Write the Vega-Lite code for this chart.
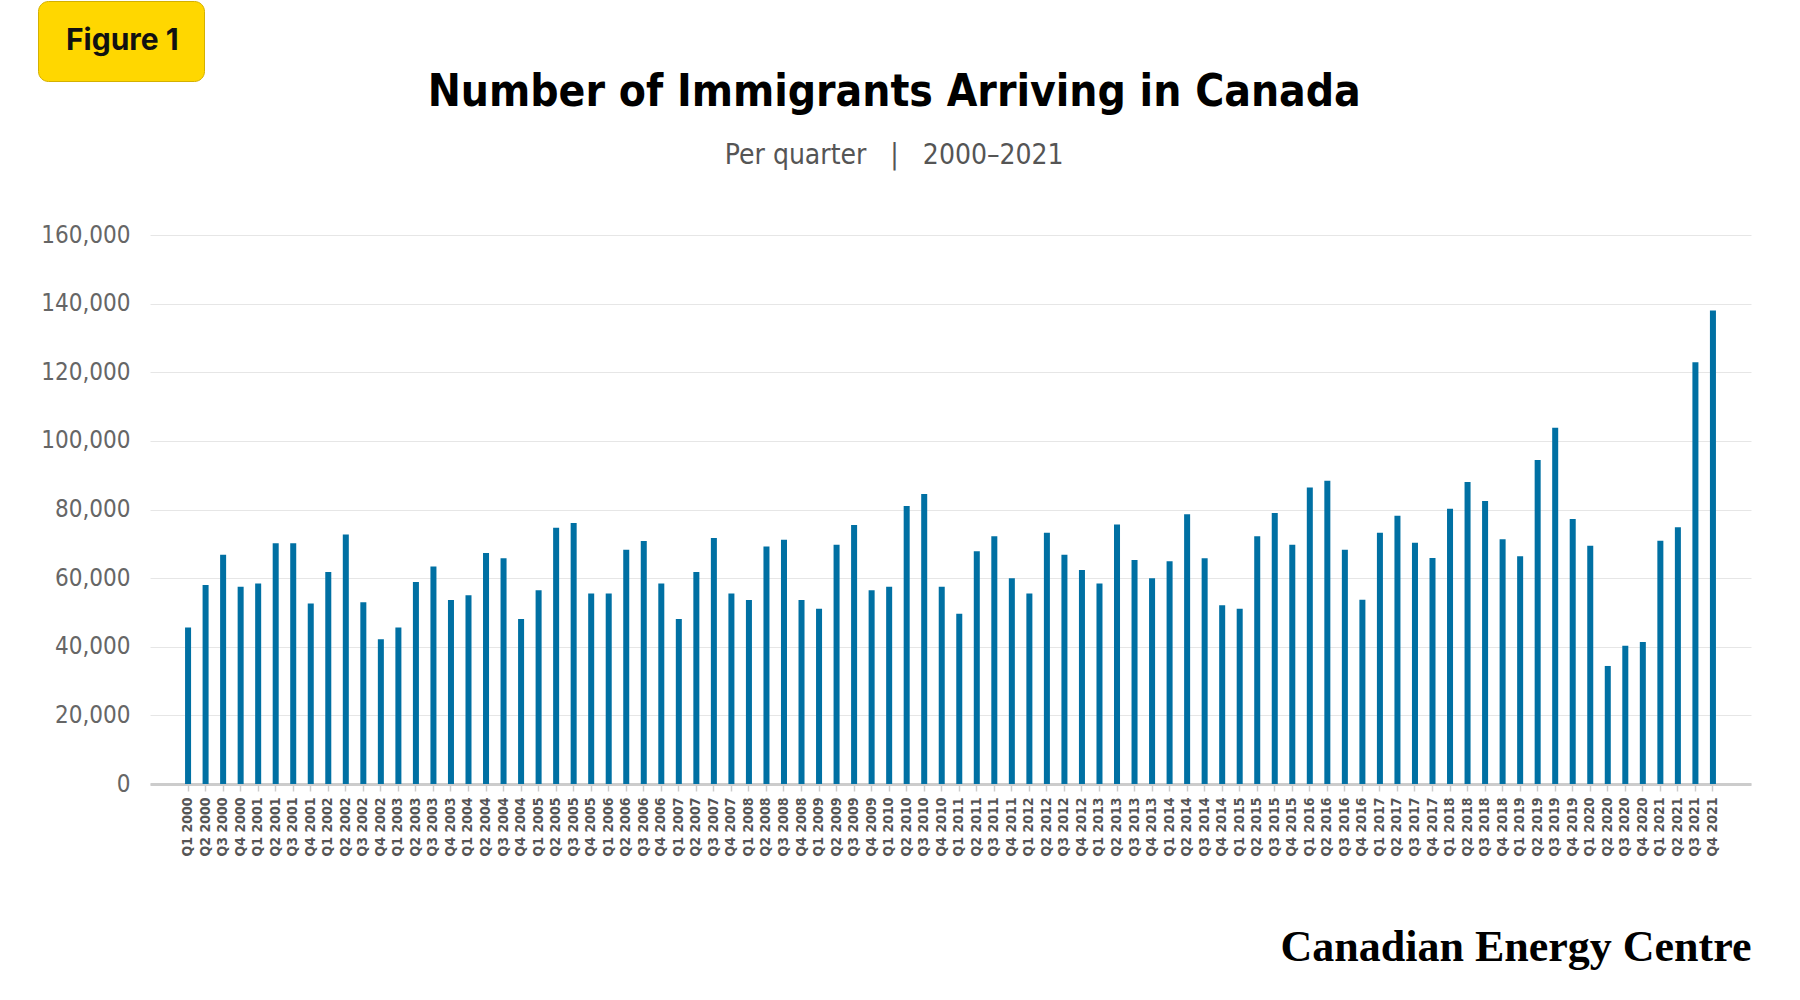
{
  "$schema": "https://vega.github.io/schema/vega-lite/v6.json",
  "description": "Number of immigrants arriving in Canada per quarter, 2000-2021.",
  "background": "white",
  "padding": {"left": 37, "top": 0, "right": 50, "bottom": 10},
  "width": 1601,
  "height": 549,
  "title": {
    "text": "Number of Immigrants Arriving in Canada",
    "subtitle": "Per quarter\u00a0\u00a0\u00a0|\u00a0\u00a0\u00a02000–2021",
    "anchor": "middle",
    "frame": "bounds",
    "font": "DejaVu Sans Condensed",
    "fontWeight": "bold",
    "fontSize": 44,
    "color": "#000000",
    "subtitleFont": "DejaVu Sans Condensed",
    "subtitleFontSize": 28,
    "subtitleColor": "#555555",
    "subtitlePadding": 27,
    "offset": -169
  },
  "data": {
    "values": [
      {"quarter": "Q1 2000", "immigrants": 45600},
      {"quarter": "Q2 2000", "immigrants": 58000},
      {"quarter": "Q3 2000", "immigrants": 66800},
      {"quarter": "Q4 2000", "immigrants": 57500},
      {"quarter": "Q1 2001", "immigrants": 58400},
      {"quarter": "Q2 2001", "immigrants": 70200},
      {"quarter": "Q3 2001", "immigrants": 70200},
      {"quarter": "Q4 2001", "immigrants": 52600},
      {"quarter": "Q1 2002", "immigrants": 61800},
      {"quarter": "Q2 2002", "immigrants": 72700},
      {"quarter": "Q3 2002", "immigrants": 53000},
      {"quarter": "Q4 2002", "immigrants": 42200},
      {"quarter": "Q1 2003", "immigrants": 45600},
      {"quarter": "Q2 2003", "immigrants": 58900},
      {"quarter": "Q3 2003", "immigrants": 63400},
      {"quarter": "Q4 2003", "immigrants": 53600},
      {"quarter": "Q1 2004", "immigrants": 55000},
      {"quarter": "Q2 2004", "immigrants": 67300},
      {"quarter": "Q3 2004", "immigrants": 65800},
      {"quarter": "Q4 2004", "immigrants": 48100},
      {"quarter": "Q1 2005", "immigrants": 56500},
      {"quarter": "Q2 2005", "immigrants": 74700},
      {"quarter": "Q3 2005", "immigrants": 76100},
      {"quarter": "Q4 2005", "immigrants": 55500},
      {"quarter": "Q1 2006", "immigrants": 55500},
      {"quarter": "Q2 2006", "immigrants": 68300},
      {"quarter": "Q3 2006", "immigrants": 70800},
      {"quarter": "Q4 2006", "immigrants": 58400},
      {"quarter": "Q1 2007", "immigrants": 48100},
      {"quarter": "Q2 2007", "immigrants": 61800},
      {"quarter": "Q3 2007", "immigrants": 71700},
      {"quarter": "Q4 2007", "immigrants": 55500},
      {"quarter": "Q1 2008", "immigrants": 53600},
      {"quarter": "Q2 2008", "immigrants": 69200},
      {"quarter": "Q3 2008", "immigrants": 71200},
      {"quarter": "Q4 2008", "immigrants": 53600},
      {"quarter": "Q1 2009", "immigrants": 51100},
      {"quarter": "Q2 2009", "immigrants": 69700},
      {"quarter": "Q3 2009", "immigrants": 75500},
      {"quarter": "Q4 2009", "immigrants": 56500},
      {"quarter": "Q1 2010", "immigrants": 57500},
      {"quarter": "Q2 2010", "immigrants": 81000},
      {"quarter": "Q3 2010", "immigrants": 84500},
      {"quarter": "Q4 2010", "immigrants": 57500},
      {"quarter": "Q1 2011", "immigrants": 49600},
      {"quarter": "Q2 2011", "immigrants": 67800},
      {"quarter": "Q3 2011", "immigrants": 72200},
      {"quarter": "Q4 2011", "immigrants": 60000},
      {"quarter": "Q1 2012", "immigrants": 55500},
      {"quarter": "Q2 2012", "immigrants": 73200},
      {"quarter": "Q3 2012", "immigrants": 66800},
      {"quarter": "Q4 2012", "immigrants": 62400},
      {"quarter": "Q1 2013", "immigrants": 58400},
      {"quarter": "Q2 2013", "immigrants": 75600},
      {"quarter": "Q3 2013", "immigrants": 65300},
      {"quarter": "Q4 2013", "immigrants": 60000},
      {"quarter": "Q1 2014", "immigrants": 64900},
      {"quarter": "Q2 2014", "immigrants": 78600},
      {"quarter": "Q3 2014", "immigrants": 65800},
      {"quarter": "Q4 2014", "immigrants": 52100},
      {"quarter": "Q1 2015", "immigrants": 51100},
      {"quarter": "Q2 2015", "immigrants": 72200},
      {"quarter": "Q3 2015", "immigrants": 79000},
      {"quarter": "Q4 2015", "immigrants": 69700},
      {"quarter": "Q1 2016", "immigrants": 86400},
      {"quarter": "Q2 2016", "immigrants": 88400},
      {"quarter": "Q3 2016", "immigrants": 68300},
      {"quarter": "Q4 2016", "immigrants": 53700},
      {"quarter": "Q1 2017", "immigrants": 73200},
      {"quarter": "Q2 2017", "immigrants": 78200},
      {"quarter": "Q3 2017", "immigrants": 70300},
      {"quarter": "Q4 2017", "immigrants": 65900},
      {"quarter": "Q1 2018", "immigrants": 80200},
      {"quarter": "Q2 2018", "immigrants": 88000},
      {"quarter": "Q3 2018", "immigrants": 82500},
      {"quarter": "Q4 2018", "immigrants": 71300},
      {"quarter": "Q1 2019", "immigrants": 66400},
      {"quarter": "Q2 2019", "immigrants": 94400},
      {"quarter": "Q3 2019", "immigrants": 103800},
      {"quarter": "Q4 2019", "immigrants": 77200},
      {"quarter": "Q1 2020", "immigrants": 69400},
      {"quarter": "Q2 2020", "immigrants": 34400},
      {"quarter": "Q3 2020", "immigrants": 40300},
      {"quarter": "Q4 2020", "immigrants": 41400},
      {"quarter": "Q1 2021", "immigrants": 70900},
      {"quarter": "Q2 2021", "immigrants": 74800},
      {"quarter": "Q3 2021", "immigrants": 122900},
      {"quarter": "Q4 2021", "immigrants": 138000}
    ]
  },
  "mark": {"type": "bar"},
  "encoding": {
    "x": {
      "field": "quarter",
      "type": "ordinal",
      "sort": null,
      "scale": {
        "paddingInner": 0.657,
        "paddingOuter": 1,
        "domain": [
          "pad-left",
          "Q1 2000", "Q2 2000", "Q3 2000", "Q4 2000",
          "Q1 2001", "Q2 2001", "Q3 2001", "Q4 2001",
          "Q1 2002", "Q2 2002", "Q3 2002", "Q4 2002",
          "Q1 2003", "Q2 2003", "Q3 2003", "Q4 2003",
          "Q1 2004", "Q2 2004", "Q3 2004", "Q4 2004",
          "Q1 2005", "Q2 2005", "Q3 2005", "Q4 2005",
          "Q1 2006", "Q2 2006", "Q3 2006", "Q4 2006",
          "Q1 2007", "Q2 2007", "Q3 2007", "Q4 2007",
          "Q1 2008", "Q2 2008", "Q3 2008", "Q4 2008",
          "Q1 2009", "Q2 2009", "Q3 2009", "Q4 2009",
          "Q1 2010", "Q2 2010", "Q3 2010", "Q4 2010",
          "Q1 2011", "Q2 2011", "Q3 2011", "Q4 2011",
          "Q1 2012", "Q2 2012", "Q3 2012", "Q4 2012",
          "Q1 2013", "Q2 2013", "Q3 2013", "Q4 2013",
          "Q1 2014", "Q2 2014", "Q3 2014", "Q4 2014",
          "Q1 2015", "Q2 2015", "Q3 2015", "Q4 2015",
          "Q1 2016", "Q2 2016", "Q3 2016", "Q4 2016",
          "Q1 2017", "Q2 2017", "Q3 2017", "Q4 2017",
          "Q1 2018", "Q2 2018", "Q3 2018", "Q4 2018",
          "Q1 2019", "Q2 2019", "Q3 2019", "Q4 2019",
          "Q1 2020", "Q2 2020", "Q3 2020", "Q4 2020",
          "Q1 2021", "Q2 2021", "Q3 2021", "Q4 2021",
          "pad-right"
        ]
      },
      "axis": {
        "values": [
          "Q1 2000", "Q2 2000", "Q3 2000", "Q4 2000",
          "Q1 2001", "Q2 2001", "Q3 2001", "Q4 2001",
          "Q1 2002", "Q2 2002", "Q3 2002", "Q4 2002",
          "Q1 2003", "Q2 2003", "Q3 2003", "Q4 2003",
          "Q1 2004", "Q2 2004", "Q3 2004", "Q4 2004",
          "Q1 2005", "Q2 2005", "Q3 2005", "Q4 2005",
          "Q1 2006", "Q2 2006", "Q3 2006", "Q4 2006",
          "Q1 2007", "Q2 2007", "Q3 2007", "Q4 2007",
          "Q1 2008", "Q2 2008", "Q3 2008", "Q4 2008",
          "Q1 2009", "Q2 2009", "Q3 2009", "Q4 2009",
          "Q1 2010", "Q2 2010", "Q3 2010", "Q4 2010",
          "Q1 2011", "Q2 2011", "Q3 2011", "Q4 2011",
          "Q1 2012", "Q2 2012", "Q3 2012", "Q4 2012",
          "Q1 2013", "Q2 2013", "Q3 2013", "Q4 2013",
          "Q1 2014", "Q2 2014", "Q3 2014", "Q4 2014",
          "Q1 2015", "Q2 2015", "Q3 2015", "Q4 2015",
          "Q1 2016", "Q2 2016", "Q3 2016", "Q4 2016",
          "Q1 2017", "Q2 2017", "Q3 2017", "Q4 2017",
          "Q1 2018", "Q2 2018", "Q3 2018", "Q4 2018",
          "Q1 2019", "Q2 2019", "Q3 2019", "Q4 2019",
          "Q1 2020", "Q2 2020", "Q3 2020", "Q4 2020",
          "Q1 2021", "Q2 2021", "Q3 2021", "Q4 2021"
        ],
        "title": "Canadian Energy Centre",
        "titleFont": "Liberation Serif",
        "titleFontWeight": "bold",
        "titleFontSize": 44,
        "titleColor": "#000000",
        "titleAnchor": "end",
        "titleAlign": "right",
        "titlePadding": 70,
        "labelAngle": 270,
        "labelFont": "DejaVu Sans Condensed",
        "labelFontWeight": "bold",
        "labelFontSize": 14,
        "labelColor": "#555555",
        "labelPadding": 6,
        "domainColor": "#cccccc",
        "domainWidth": 3,
        "tickColor": "#cccccc",
        "tickWidth": 1.5,
        "tickSize": 7
      }
    },
    "y": {
      "field": "immigrants",
      "type": "quantitative",
      "scale": {"domain": [0, 160000], "nice": false},
      "axis": {
        "title": null,
        "values": [0, 20000, 40000, 60000, 80000, 100000, 120000, 140000, 160000],
        "format": ",.0f",
        "labelFont": "DejaVu Sans Condensed",
        "labelFontSize": 24,
        "labelColor": "#666666",
        "labelPadding": 20,
        "domain": false,
        "ticks": false,
        "gridColor": "#e6e6e6",
        "gridWidth": 1
      }
    },
    "color": {
      "datum": "Figure 1",
      "type": "nominal",
      "scale": {"range": ["#0070A3"]},
      "legend": {
        "orient": "none",
        "legendX": -112,
        "legendY": -234,
        "title": null,
        "symbolSize": 0,
        "symbolOpacity": 0,
        "symbolStrokeWidth": 0,
        "labelOffset": -27,
        "labelFont": "Inter",
        "labelFontWeight": "bold",
        "labelFontSize": 30,
        "labelColor": "#111111",
        "fillColor": "#FFD700",
        "strokeColor": "#D4B000",
        "cornerRadius": 10,
        "padding": 25
      }
    }
  },
  "config": {
    "view": {"stroke": null}
  }
}
